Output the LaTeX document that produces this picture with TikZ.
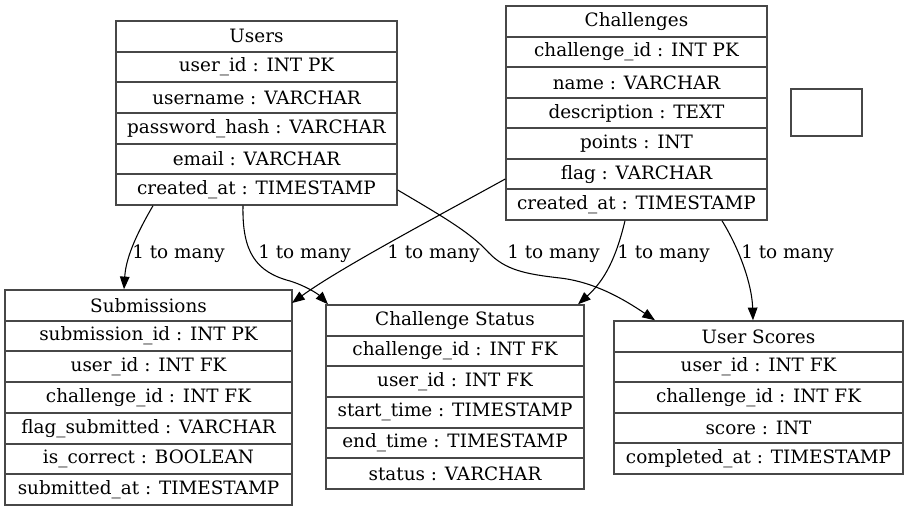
\documentclass[tikz,border=0pt]{standalone}
\usepackage{fontspec}
\setmainfont{DejaVu Serif}
\usetikzlibrary{arrows.meta,fit,calc}
\tikzset{
  tblline/.style={draw=black!72,line width=1.1pt},
  cell/.style={font=\fontsize{13.8pt}{16pt}\selectfont,inner sep=0pt,text=black},
  edge/.style={draw=black,line width=0.8pt,-{Triangle[length=9.5pt,width=7.2pt]}},
  elabel/.style={font=\fontsize{13.8pt}{16pt}\selectfont,inner sep=0pt,anchor=west}
}
\newcommand\erbox[7]{%
  \path (#2,#3) coordinate (#1-nw) (#4,#5) coordinate (#1-se);
  \node[tblline,fit=(#1-nw)(#1-se),inner sep=0pt] (#1) {};
  \pgfmathsetmacro\rh{(#5-#3)/#6}
  \foreach \t [count=\i] in {#7} {
    \node[cell] (#1-r\i) at ({(#2+#4)/2},{#3+(\i-0.5)*\rh}) {\t};
    \ifnum\i>1
      \pgfmathsetmacro\yy{round(#3+(\i-1)*\rh)}
      \draw[tblline] (#2,\yy) -- (#4,\yy);
    \fi
  }
}
\begin{document}
\begin{tikzpicture}[x=0.75pt,y=-0.75pt]
\useasboundingbox (0,0) rectangle (907,511);
\erbox{users}{116}{21}{397}{205}{6}{Users,user\_id : INT PK,username : VARCHAR,password\_hash : VARCHAR,email : VARCHAR,created\_at : TIMESTAMP}
\erbox{chal}{506}{6}{767}{220}{7}{Challenges,challenge\_id : INT PK,name : VARCHAR,description : TEXT,points : INT,flag : VARCHAR,created\_at : TIMESTAMP}
\erbox{subm}{5}{290}{292}{505}{7}{Submissions,submission\_id : INT PK,user\_id : INT FK,challenge\_id : INT FK,flag\_submitted : VARCHAR,is\_correct : BOOLEAN,submitted\_at : TIMESTAMP}
\erbox{cstat}{326}{305}{584}{489}{6}{Challenge Status,challenge\_id : INT FK,user\_id : INT FK,start\_time : TIMESTAMP,end\_time : TIMESTAMP,status : VARCHAR}
\erbox{uscore}{614}{321}{903}{474}{5}{User Scores,user\_id : INT FK,challenge\_id : INT FK,score : INT,completed\_at : TIMESTAMP}
\path (791,89) coordinate (empty-nw) (862,136) coordinate (empty-se);
\node[tblline,fit=(empty-nw)(empty-se),inner sep=0pt] (empty) {};

% edges
\draw[edge] (153,0 |- users.south) .. controls (140,228) and (126,255) .. (124,0 |- subm.north);
\node[elabel] (l1) at (132,254) {1 to many};

\draw[edge] (243,0 |- users.south) .. controls (242,252) and (256,272) .. (290,281) .. controls (306,286) and (318,294) .. (328,0 |- cstat.north);
\node[elabel] (l2) at (258,254) {1 to many};

\draw[edge] (chal.west |- 0,179) .. controls (440,215) and (340,268) .. (292,303);
\node[elabel] (l3) at (387,254) {1 to many};

\draw[edge] (users.east |- 0,190) .. controls (440,215) and (470,232) .. (488,252) .. controls (505,270) and (525,274) .. (560,278) .. controls (595,282) and (625,300) .. (655,0 |- uscore.north);
\node[elabel] (l4) at (507,254) {1 to many};

\draw[edge] (625,0 |- chal.south) .. controls (616,258) and (605,280) .. (578,0 |- cstat.north);
\node[elabel] (l5) at (617,254) {1 to many};

\draw[edge] (722,0 |- chal.south) .. controls (740,250) and (752,285) .. (753,0 |- uscore.north);
\node[elabel] (l6) at (741,254) {1 to many};
\end{tikzpicture}
\end{document}
